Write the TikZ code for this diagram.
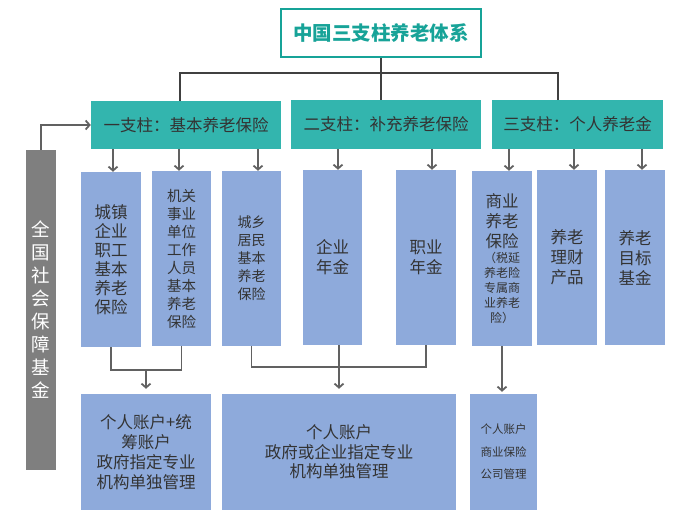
\documentclass[tikz,border=0pt]{standalone}
\usepackage{fontspec}
\setmainfont{Noto Sans CJK SC}
\usetikzlibrary{arrows.meta}
\definecolor{tealbox}{HTML}{33B5AE}
\definecolor{tealtxt}{HTML}{17A398}
\definecolor{bluebox}{HTML}{8EAADB}
\definecolor{graybox}{HTML}{7F7F7F}
\definecolor{darkline}{HTML}{404040}
\definecolor{arrline}{HTML}{616161}
\definecolor{txt}{HTML}{333333}
\tikzset{
  pillar/.style={fill=tealbox, inner sep=0pt, text=txt, font=\fontsize{16.5}{20}\selectfont},
  bbox/.style={fill=bluebox, inner sep=0pt, text=txt, align=center},
  conn/.style={draw=darkline, line width=2pt},
  arr/.style={draw=arrline, line width=1.8pt, -{Straight Barb[length=4pt,width=9pt]}},
  jline/.style={draw=arrline, line width=1.8pt},
}
\begin{document}
\begin{tikzpicture}[x=1pt,y=-1pt]
\useasboundingbox (0,0) rectangle (682,526);
% title
\node[draw=tealtxt, line width=2pt, minimum width=200pt, minimum height=48pt, inner sep=0pt,
      text=tealtxt, font=\fontsize{19.5}{22}\selectfont\bfseries] (title) at (381,33) {中国三支柱养老体系};
% pillars
\node[pillar, minimum width=190pt, minimum height=48pt] (p1) at (186,125) {一支柱：基本养老保险};
\node[pillar, minimum width=190pt, minimum height=49pt] (p2) at (386,124.5) {二支柱：补充养老保险};
\node[pillar, minimum width=171pt, minimum height=49pt] (p3) at (577.5,124.5) {三支柱：个人养老金};
% gray fund
\node[fill=graybox, inner sep=0pt, minimum width=30pt, minimum height=320pt, text=white, align=center,
      font=\fontsize{18.5}{23}\selectfont] (g) at (41,310) {全\\国\\社\\会\\保\\障\\基\\金};
% row boxes
\node[bbox, minimum width=60pt, minimum height=175pt, font=\fontsize{16.5}{19}\selectfont] (b1) at (111,259.5) {城镇\\企业\\职工\\基本\\养老\\保险};
\node[bbox, minimum width=59pt, minimum height=175pt, font=\fontsize{14.5}{18}\selectfont] (b2) at (181.5,258.5) {机关\\事业\\单位\\工作\\人员\\基本\\养老\\保险};
\node[bbox, minimum width=59pt, minimum height=175pt, font=\fontsize{14}{18}\selectfont] (b3) at (251.5,258.5) {城乡\\居民\\基本\\养老\\保险};
\node[bbox, minimum width=59pt, minimum height=175pt, font=\fontsize{16.5}{20}\selectfont] (b4) at (332.5,257.5) {企业\\年金};
\node[bbox, minimum width=60pt, minimum height=175pt, font=\fontsize{16.5}{20}\selectfont] (b5) at (426,257.5) {职业\\年金};
\node[bbox, minimum width=60pt, minimum height=175pt] (b6) at (502,258.5)
  {\parbox{58pt}{\centering\fontsize{16.5}{20}\selectfont 商业\\养老\\保险\par
   \fontsize{12}{15}\selectfont （税延\\养老险\\专属商\\业养老\\险）\par}};
\node[bbox, minimum width=60pt, minimum height=175pt, font=\fontsize{16.5}{20}\selectfont] (b7) at (567,257.5) {养老\\理财\\产品};
\node[bbox, minimum width=60pt, minimum height=175pt, font=\fontsize{16.5}{20}\selectfont] (b8) at (635,257.5) {养老\\目标\\基金};
% bottom boxes
\node[bbox, minimum width=130pt, minimum height=116pt, font=\fontsize{16.5}{20}\selectfont] (bb1) at (146,452) {个人账户+统\\筹账户\\政府指定专业\\机构单独管理};
\node[bbox, minimum width=234pt, minimum height=116pt, font=\fontsize{16.5}{19.5}\selectfont] (bb2) at (339,452) {个人账户\\政府或企业指定专业\\机构单独管理};
\node[bbox, minimum width=67pt, minimum height=116pt, font=\fontsize{11.5}{22.5}\selectfont] (bb3) at (503.5,452) {个人账户\\商业保险\\公司管理};
% top connectors
\coordinate (h) at (0,73);
\draw[conn] (title.south) -- (title.south |- p2.north);
\draw[conn] ([xshift=-6pt]p1.north) |- ([xshift=-19.5pt]p3.north |- h) -- ([xshift=-19.5pt]p3.north);
% fund arrow
\draw[arr] (g.north) |- (p1.west);
% pillar arrows
\draw[arr] ([xshift=2pt]b1.north |- p1.south) -- ([xshift=2pt]b1.north);
\draw[arr] ([xshift=-2.5pt]b2.north |- p1.south) -- ([xshift=-2.5pt]b2.north);
\draw[arr] ([xshift=6.5pt]b3.north |- p1.south) -- ([xshift=6.5pt]b3.north);
\draw[arr] ([xshift=5.5pt]b4.north |- p2.south) -- ([xshift=5.5pt]b4.north);
\draw[arr] ([xshift=6pt]b5.north |- p2.south) -- ([xshift=6pt]b5.north);
\draw[arr] ([xshift=7pt]b6.north |- p3.south) -- ([xshift=7pt]b6.north);
\draw[arr] ([xshift=7pt]b7.north |- p3.south) -- ([xshift=7pt]b7.north);
\draw[arr] ([xshift=7pt]b8.north |- p3.south) -- ([xshift=7pt]b8.north);
% bottom connectors
\coordinate (j1) at (0,370);
\coordinate (j2) at (0,367);
\draw[jline] (b1.south) |- (j1 -| b2.south) -- (b2.south);
\draw[arr, shorten >=5pt] (bb1.north |- j1) -- (bb1.north);
\draw[jline] (b3.south) |- (j2 -| b5.south) -- (b5.south);
\draw[arr, shorten >=5pt] (bb2.north |- b4.south) -- (bb2.north);
\draw[arr, shorten >=2pt] (b6.south) -- (b6.south |- bb3.north);
\end{tikzpicture}
\end{document}
